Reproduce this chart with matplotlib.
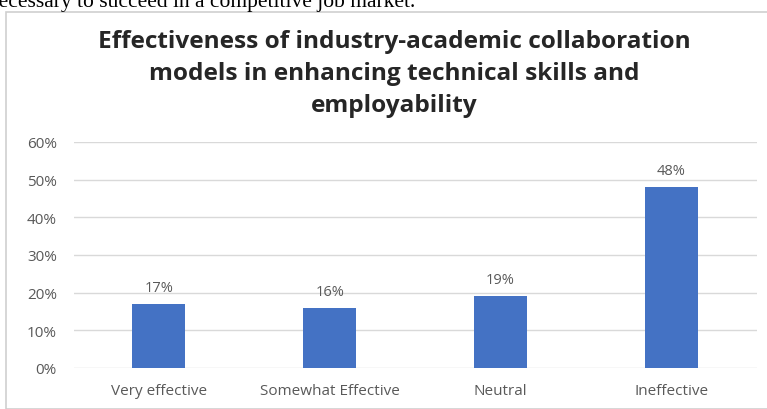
import matplotlib
matplotlib.use("Agg")
import matplotlib.pyplot as plt
from matplotlib.patches import Rectangle

# data
categories = ["Very effective", "Somewhat Effective", "Neutral", "Ineffective"]
values = [0.17, 0.16, 0.19, 0.48]
y_ticks = [0.0, 0.1, 0.2, 0.3, 0.4, 0.5, 0.6]
title_lines = ["Effectiveness of industry-academic collaboration",
               "models in enhancing technical skills and",
               "employability"]
page_text = "necessary to succeed in a competitive job market."

W, H = 767, 410
FONT = "Open Sans"
fig = plt.figure(figsize=(W / 100, H / 100), dpi=100)
fig.patch.set_facecolor("white")

# piece of the page text cut off at the top
fig.text(415 / W, 1 - 7 / H, page_text, ha="right", va="baseline",
         family="Liberation Serif", fontsize=15.5, color="black")

# chart frame
fig.patches.append(Rectangle((6 / W, 0), 1, 1 - 13 / H, transform=fig.transFigure,
                             fill=False, edgecolor="#cfcfcf", linewidth=1.2))

# title, one baseline per line
for i, line in enumerate(title_lines):
    fig.text(394 / W, 1 - (48 + 32 * i) / H, line, ha="center", va="baseline",
             family=FONT, fontweight="bold", fontsize=17.6, color="#262626")

ax = fig.add_axes([73.5 / W, 1 - 369 / H, (756.5 - 73.5) / W, (369 - 143) / H])
x = list(range(len(categories)))
ax.bar(x, values, width=0.31, color="#4472C4", zorder=3)
for xi, v in zip(x, values):
    ax.text(xi, v + 0.024, f"{round(v * 100)}%", ha="center", va="bottom",
            family=FONT, fontsize=10.5, color="#595959")

ax.set_xlim(-0.5, len(categories) - 0.5)
ax.set_ylim(0, 0.6)
ax.set_yticks(y_ticks)
ax.set_yticklabels([f"{round(t * 100)}%" for t in y_ticks])
ax.set_xticks(x)
ax.set_xticklabels(categories)
ax.grid(axis="y", color="#d9d9d9", linewidth=1, zorder=0)
for s in ax.spines.values():
    s.set_visible(False)
ax.tick_params(axis="both", length=0, labelsize=11, labelcolor="#595959")
ax.tick_params(axis="y", pad=12)
ax.tick_params(axis="x", pad=11)
for lab in ax.get_xticklabels() + ax.get_yticklabels():
    lab.set_family(FONT)

fig.savefig("out.png", dpi=100)
